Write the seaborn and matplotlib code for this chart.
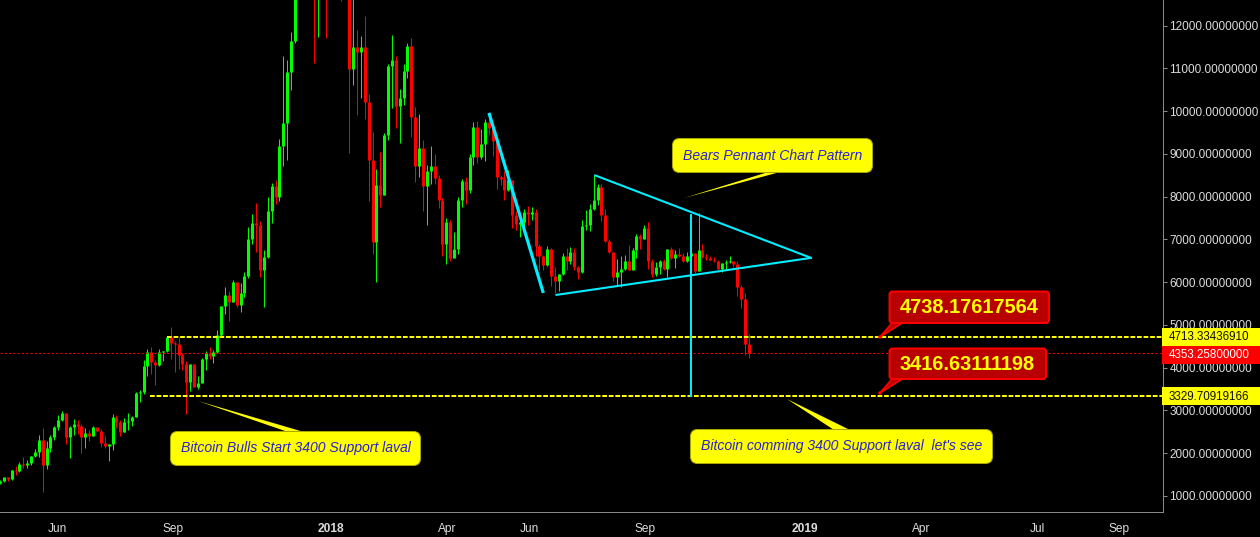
import numpy as np
import pandas as pd
import matplotlib
matplotlib.use("Agg")
import matplotlib.pyplot as plt
from matplotlib.patches import FancyBboxPatch, Polygon, Rectangle, Circle
from matplotlib.ticker import FormatStrFormatter
from matplotlib.transforms import Affine2D
import seaborn as sns

# ---------------- data (3-day BTC candles) ----------------
first_date = "2017-04-20"
first_open = 1312
closes = [
    1351, 1436, 1397, 1608, 1592, 1748, 1717, 1772, 1936, 2029,
    2310, 1725, 2123, 2380, 2614, 2778, 2942, 2380, 2614, 2684,
    2638, 2380, 2474, 2404, 2614, 2521, 2240, 2170, 2216, 2848,
    2731, 2497, 2731, 2745, 2848, 3410, 3433, 4042, 4369, 4135,
    4065, 4369, 4393, 4720, 4580, 4556, 4299, 4088, 3667, 4088,
    3550, 3644, 4205, 4346, 4276, 4369, 4767, 5446, 5703, 5539,
    6007, 5469, 5742, 6148, 7013, 7388, 7341, 6288, 6592, 7669,
    8254, 7996, 9190, 9728, 10921, 11647, 13800, 15800, 16700, 18900,
    17300, 14500, 15500, 14200, 13700, 14800, 16800, 14000, 13300, 13900,
    10991, 11506, 11389, 11506, 10219, 8862, 6943, 8277, 8043, 9447,
    11062, 11202, 10126, 10313, 10945, 11530, 9868, 8722, 9143, 8254,
    8605, 8722, 8441, 7926, 6896, 7411, 6569, 6780, 7926, 8371,
    8160, 8932, 9634, 8932, 9236, 9751, 9611, 9307, 8464, 8417,
    8160, 8394, 7575, 7364, 7411, 7645, 7598, 7645, 6850, 6616,
    6405, 6780, 6148, 6031, 6194, 6616, 6498, 6709, 6358, 6241,
    7318, 7330, 7715, 7926, 8230, 7575, 6967, 6709, 6124, 6241,
    6311, 6498, 6288, 6756, 7084, 7013, 7271, 6498, 6194, 6358,
    6498, 6311, 6779, 6569, 6662, 6616, 6498, 6616, 6686, 6264,
    6756, 6592, 6561, 6522, 6498, 6311, 6452, 6475, 6490, 6428,
    5890, 5609, 4556, 4353,
]
highs = [
    1374, 1436, 1452, 1608, 1702, 1795, 1912, 1842, 1936, 2099,
    2427, 2583, 2287, 2427, 2645, 2895, 2989, 2942, 2638, 2801,
    2778, 2684, 2591, 2544, 2638, 2614, 2567, 2404, 2216, 2918,
    2895, 2778, 2825, 2934, 2872, 3433, 3480, 4182, 4439, 4486,
    4182, 4439, 4393, 4744, 4954, 4627, 4720, 4346, 4159, 4088,
    4088, 3808, 4229, 4393, 4486, 4416, 4884, 5446, 5890, 5796,
    6054, 6007, 5976, 6241, 7286, 7598, 7848, 7435, 6756, 7996,
    8324, 8394, 9353, 11296, 11202, 11857, 14000, 16200, 17100, 19700,
    19000, 17500, 17000, 15800, 14500, 15000, 17000, 17000, 14500, 14200,
    14000, 12700, 11904, 11764, 12232, 10406, 9517, 8651, 9049, 9486,
    11108, 11787, 11296, 10523, 11108, 11600, 11717, 10102, 9938, 9330,
    8745, 9190, 9002, 8511, 7973, 7505, 7458, 7177, 7996, 8418,
    8464, 9002, 9751, 9775, 9587, 9821, 9954, 9704, 9353, 8500,
    8600, 8628, 8394, 7668, 7575, 7715, 7785, 7762, 7715, 6897,
    6640, 6850, 6803, 6358, 6194, 6678, 6803, 6826, 6803, 6382,
    7458, 7692, 7833, 8519, 8300, 8300, 7715, 7014, 6709, 6545,
    6616, 6639, 6873, 6803, 7130, 7130, 7341, 7411, 6545, 6475,
    6522, 6545, 6779, 6826, 6756, 6803, 6686, 6709, 6756, 6686,
    7614, 6896, 6662, 6623, 6592, 6522, 6452, 6522, 6616, 6498,
    6498, 5937, 5750, 4790,
]
lows = [
    1288, 1334, 1351, 1374, 1491, 1561, 1663, 1655, 1725, 1920,
    1920, 1101, 1631, 2029, 2310, 2544, 2755, 2216, 1889, 2427,
    2450, 2006, 2123, 2287, 2404, 2521, 2146, 2123, 1818, 2076,
    2591, 2404, 2497, 2544, 2638, 2848, 3199, 3386, 3808, 3854,
    3597, 4042, 4159, 4369, 4205, 3901, 3971, 3948, 2918, 3457,
    3550, 3503, 3644, 3948, 4205, 4112, 4346, 4744, 5258, 5095,
    5539, 5422, 5313, 5664, 6109, 6897, 6717, 6132, 5430, 6569,
    7388, 7832, 7903, 8722, 8862, 10500, 11600, 13600, 15500, 16500,
    16000, 11124, 11732, 13500, 11701, 13300, 14500, 13200, 12567, 13000,
    9034, 10617, 9915, 10313, 9821, 7903, 6662, 6007, 7762, 8043,
    9330, 10079, 9611, 9260, 10149, 10781, 9400, 8347, 8464, 7669,
    7341, 8300, 8300, 7739, 6616, 6428, 6498, 6569, 6662, 7762,
    7832, 8090, 8745, 8792, 8885, 8839, 9447, 8956, 8184, 8277,
    7926, 8137, 7271, 7224, 7060, 7224, 7341, 7458, 6616, 6288,
    6288, 6382, 5913, 5750, 5797, 6171, 6288, 6428, 6288, 6077,
    6218, 7224, 7200, 7692, 7809, 7435, 6943, 6678, 6031, 5913,
    5898, 6288, 6288, 6335, 6569, 6779, 7013, 6311, 6124, 6148,
    6194, 6288, 6124, 6545, 6335, 6584, 6475, 6483, 6498, 6218,
    6264, 6569, 6522, 6514, 6475, 6311, 6241, 6311, 6452, 6358,
    5680, 5399, 4299, 4229,
]

price_ticks = [1000, 2000, 3000, 4000, 5000, 6000, 7000, 8000, 9000, 10000, 11000, 12000]
date_ticks = ["2017-06-03", "2017-09-01", "2018-01-01", "2018-04-01", "2018-06-03",
              "2018-09-01", "2019-01-02", "2019-04-02", "2019-07-01", "2019-09-02"]
date_labels = ["Jun", "Sep", "2018", "Apr", "Jun", "Sep", "2019", "Apr", "Jul", "Sep"]

upper_level = 4713.33436910
lower_level = 3329.70919166
last_price = 4353.25800000
upper_start = "2017-08-27"
lower_start = "2017-08-14"

pennant_top_dates = ["2018-07-24", "2019-01-07"]
pennant_top_prices = [8500, 6569]
pennant_bottom_dates = ["2018-06-24", "2019-01-07"]
pennant_bottom_prices = [5703, 6569]
flagpole_dates = ["2018-05-03", "2018-06-14"]
flagpole_prices = [9962, 5750]
target_dates = ["2018-10-06", "2018-10-06"]
target_prices = [7600, 3317]

# ---------------- frame ----------------
W, H = 1260, 537
sns.set_style("dark", {"axes.facecolor": "black", "figure.facecolor": "black"})
plt.rcParams["font.family"] = ["Liberation Sans", "DejaVu Sans"]

GREEN, RED, CYAN, YELLOW = "#00FF00", "#FF0000", "#00EEFF", "#FFFF00"
AXIS, TICKTXT = "#8C8C8C", "#DCDCDC"

fig = plt.figure(figsize=(W / 100, H / 100), dpi=100, facecolor="black")
ax = fig.add_axes([0, (H - 511.5) / H, 1162.5 / W, 511.5 / H], facecolor="black")

# ---------------- candles ----------------
dates = pd.date_range(first_date, periods=len(closes), freq="3D")
opens = [first_open] + closes[:-1]
candles = pd.DataFrame({"date": dates, "open": opens, "close": closes, "high": highs, "low": lows})
candles["id"] = np.arange(len(candles))
candles["dir"] = np.where(candles["close"] >= candles["open"], "up", "down")
palette = {"up": GREEN, "down": RED}

wicks = candles.melt(id_vars=["date", "id", "dir"], value_vars=["high", "low"], value_name="price")
bodies = candles.melt(id_vars=["date", "id", "dir"], value_vars=["open", "close"], value_name="price")

sns.lineplot(data=wicks, x="date", y="price", hue="dir", units="id", estimator=None, sort=False,
             palette=palette, legend=False, linewidth=0.71, ax=ax, solid_capstyle="butt")
sns.lineplot(data=bodies, x="date", y="price", hue="dir", units="id", estimator=None, sort=False,
             palette=palette, legend=False, linewidth=2.15, ax=ax, solid_capstyle="butt")

# ---------------- axes ----------------
x_left = pd.Timestamp("2018-01-01") - pd.Timedelta(days=256)
x_right = pd.Timestamp("2018-01-01") + pd.Timedelta(days=642.7)
ax.set_xlim(x_left, x_right)
ax.set_ylim(637, 12601)
ax.set_xlabel("")
ax.set_ylabel("")
ax.grid(False)

for s in ["top", "left"]:
    ax.spines[s].set_visible(False)
for s in ["right", "bottom"]:
    ax.spines[s].set_visible(True)
    ax.spines[s].set_color(AXIS)
    ax.spines[s].set_linewidth(0.71)

ax.yaxis.tick_right()
ax.set_yticks(price_ticks)
ax.yaxis.set_major_formatter(FormatStrFormatter("%.8f"))
ax.set_xticks(pd.to_datetime(date_ticks))
ax.set_xticklabels(date_labels)
ax.tick_params(axis="y", length=3, width=0.71, color=AXIS, labelcolor=TICKTXT, labelsize=8.5, pad=2.0)
ax.tick_params(axis="x", length=3, width=0.71, color=AXIS, labelcolor=TICKTXT, labelsize=8.6, pad=5.5)
for lab in ax.get_xticklabels():
    if lab.get_text().isdigit():
        lab.set_fontweight("bold")

# ---------------- levels and pennant ----------------
ax.plot([x_left, x_right], [last_price, last_price], color=RED, lw=0.7, ls=(0, (2.2, 2.2)), zorder=2.5)
ax.plot(pd.to_datetime([upper_start, x_right]), [upper_level, upper_level], color=YELLOW, lw=1.43,
        ls=(0, (2.4, 0.9)), zorder=4, dash_capstyle="butt")
ax.plot(pd.to_datetime([lower_start, x_right]), [lower_level, lower_level], color=YELLOW, lw=1.43,
        ls=(0, (2.4, 0.9)), zorder=4, dash_capstyle="butt")
ax.plot(pd.to_datetime(pennant_top_dates), pennant_top_prices, color=CYAN, lw=1.5, zorder=5)
ax.plot(pd.to_datetime(pennant_bottom_dates), pennant_bottom_prices, color=CYAN, lw=1.5, zorder=5)
ax.plot(pd.to_datetime(flagpole_dates), flagpole_prices, color=CYAN, lw=2.3, zorder=5, solid_capstyle="butt")
ax.plot(pd.to_datetime(target_dates), target_prices, color=CYAN, lw=1.43, zorder=5, solid_capstyle="butt")

# ---------------- annotations (placed in image pixels) ----------------
px = Affine2D().scale(1, -1).translate(0, H)


def callout(x0, y0, x1, y1, tail, text, tx, ty, size=10.1):
    fig.add_artist(Polygon(tail, closed=True, transform=px, facecolor=YELLOW, edgecolor="none", zorder=6))
    fig.add_artist(FancyBboxPatch((x0 + 5, y0 + 5), x1 - x0 - 10, y1 - y0 - 10,
                                  boxstyle="round,pad=5,rounding_size=7", transform=px,
                                  facecolor=YELLOW, edgecolor="#A8A800", linewidth=0.7, zorder=7))
    fig.text(tx, ty, text, transform=px, color="#2A1FD6", fontsize=size, style="italic",
             ha="left", va="center", zorder=8)


callout(672.5, 138.5, 872.5, 172.5, [(684, 198), (765, 173), (780, 172)],
        "Bears Pennant Chart Pattern", 683, 155.5)
callout(170.5, 431.5, 420.5, 465.5, [(198, 401), (288, 432), (304, 432)],
        "Bitcoin Bulls Start 3400 Support laval", 181, 448)
callout(690.5, 429.5, 992.5, 463.5, [(787, 399), (834, 430), (850, 430)],
        "Bitcoin comming 3400 Support laval  let's see", 701, 446)


def red_box(x0, y0, x1, y1, tail, text):
    fig.add_artist(Polygon(tail, closed=True, transform=px, facecolor="#B80000", edgecolor=RED,
                           linewidth=1.2, zorder=6))
    fig.add_artist(Circle(tail[0], 1.8, transform=px, facecolor=RED, edgecolor="none", zorder=7))
    fig.add_artist(FancyBboxPatch((x0 + 3, y0 + 3), x1 - x0 - 6, y1 - y0 - 6,
                                  boxstyle="round,pad=3,rounding_size=3", transform=px,
                                  facecolor="#B80000", edgecolor=RED, linewidth=1.4, zorder=7))
    fig.text(x0 + 10, (y0 + y1) / 2 + 0.5, text, transform=px, color=YELLOW, fontsize=14.4,
             fontweight="bold", ha="left", va="center", zorder=8)


red_box(889.5, 291.5, 1049, 323, [(880, 337), (892, 323), (902, 323)], "4738.17617564")
red_box(889.5, 348.5, 1046, 379, [(880, 393), (892, 379), (902, 379)], "3416.63111198")


def price_tag(y0, y1, face, color, text):
    fig.add_artist(Rectangle((1162, y0), 98, y1 - y0, transform=px, facecolor=face, edgecolor="none", zorder=9))
    fig.text(1169, (y0 + y1) / 2 + 0.5, text, transform=px, color=color, fontsize=8.4,
             ha="left", va="center", zorder=10)


price_tag(328, 346, YELLOW, "#111111", f"{upper_level:.8f}")
price_tag(346, 363.5, RED, "#FFFFFF", f"{last_price:.8f}")
price_tag(387, 405, YELLOW, "#111111", f"{lower_level:.8f}")

fig.savefig("out.png", dpi=100, facecolor="black")
